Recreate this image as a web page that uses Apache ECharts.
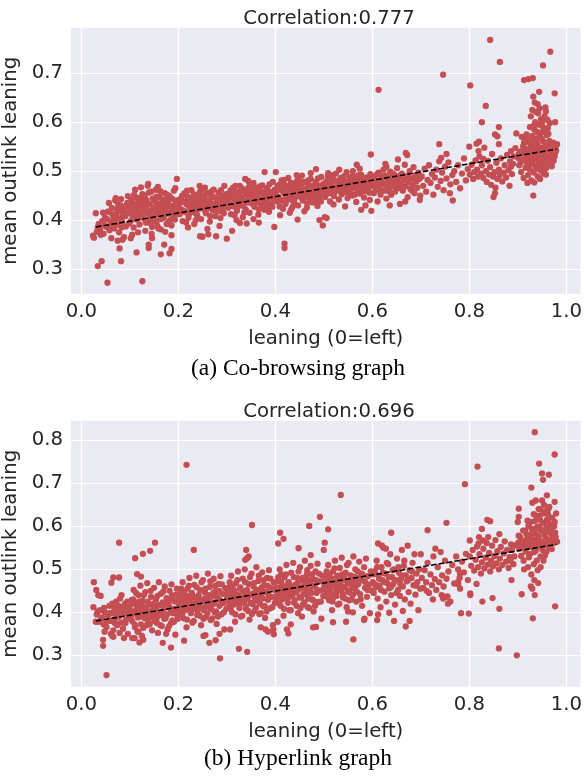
<!DOCTYPE html>
<html><head><meta charset="utf-8">
<script src="https://cdn.jsdelivr.net/npm/echarts@6/dist/echarts.min.js"></script>
<style>html,body{margin:0;padding:0;background:#fff}#c{width:584px;height:777px}</style>
</head><body><div id="c"></div>
<script>
// ---- Data ----
const xTicks = [0, 0.2, 0.4, 0.6, 0.8, 1.0];
const yTicksA = [0.3, 0.4, 0.5, 0.6, 0.7];
const yTicksB = [0.3, 0.4, 0.5, 0.6, 0.7, 0.8];
const titleA = 'Correlation:0.777';
const titleB = 'Correlation:0.696';
const captionA = '(a) Co-browsing graph';
const captionB = '(b) Hyperlink graph';
const xName = 'leaning (0=left)';
const yName = 'mean outlink leaning';
const fitA = [[0.03, 0.386], [0.98, 0.545]];
const fitB = [[0.03, 0.380], [0.98, 0.558]];

const coBrowsing = [
[0.843,0.768],[0.967,0.744],[0.863,0.723],[0.952,0.716],[0.746,0.697],[0.613,0.666],[0.802,0.675],[0.913,0.686],[0.922,0.688],[0.931,0.690],[0.976,0.659],[0.944,0.662],[0.834,0.633],[0.826,0.600],[0.977,0.600],[0.861,0.590],[0.853,0.575],[0.858,0.571],[0.918,0.575],[0.915,0.569],[0.930,0.572],[0.738,0.555],[0.815,0.556],[0.82,0.560],[0.861,0.555],[0.981,0.555],[0.753,0.535],[0.597,0.534],[0.669,0.537],[0.672,0.533],[0.568,0.513],[0.627,0.515],[0.629,0.509],[0.653,0.524],[0.932,0.450],[0.850,0.447],[0.853,0.455],[0.766,0.440],[0.698,0.441],[0.502,0.406],[0.577,0.421],[0.598,0.419],
[0.054,0.272],[0.126,0.275],[0.034,0.306],[0.042,0.316],[0.082,0.316],[0.079,0.342],[0.114,0.334],[0.139,0.350],[0.139,0.343],[0.164,0.330],[0.171,0.350],[0.182,0.332],[0.186,0.341],[0.419,0.352],[0.419,0.343],[0.030,0.414],[0.024,0.368],[0.026,0.364],[0.040,0.370],[0.197,0.484],[0.378,0.498],[0.401,0.498],[0.473,0.496],[0.484,0.504],[0.509,0.496],[0.138,0.474],[0.338,0.484],
[0.245,0.367],[0.25,0.366],[0.262,0.371],[0.278,0.367],[0.300,0.362],[0.311,0.378],[0.186,0.369],[0.146,0.363],[0.102,0.363],[0.498,0.389],[0.506,0.404],[0.446,0.401],[0.491,0.400],[0.398,0.386],[0.327,0.394],[0.341,0.393],[0.366,0.395],
[0.932,0.652],[0.935,0.640],[0.941,0.637],[0.945,0.628],[0.93,0.625],[0.938,0.621],[0.942,0.618],[0.957,0.630],[0.958,0.622],[0.955,0.612],[0.961,0.605],[0.948,0.606],[0.927,0.612],[0.936,0.600],[0.944,0.595],[0.952,0.590],[0.96,0.584],[0.934,0.585],[0.925,0.590],[0.948,0.578],
[0.901,0.527],[0.903,0.512],[0.905,0.540],[0.907,0.498],[0.909,0.522],[0.911,0.551],[0.912,0.486],[0.914,0.532],[0.916,0.507],[0.918,0.545],[0.919,0.518],[0.921,0.492],[0.922,0.561],[0.924,0.528],[0.925,0.503],[0.926,0.538],[0.928,0.481],[0.929,0.552],[0.931,0.515],[0.932,0.530],[0.933,0.497],[0.935,0.566],[0.936,0.544],[0.937,0.509],[0.939,0.525],[0.94,0.556],[0.941,0.489],[0.943,0.537],[0.944,0.518],[0.945,0.571],[0.947,0.502],[0.948,0.548],[0.949,0.528],[0.951,0.512],[0.952,0.561],[0.953,0.495],[0.955,0.539],[0.956,0.521],[0.957,0.553],[0.959,0.507],[0.96,0.574],[0.961,0.531],[0.963,0.546],[0.964,0.516],[0.965,0.562],[0.967,0.527],[0.968,0.541],[0.970,0.510],[0.971,0.555],[0.972,0.535],[0.974,0.521],[0.975,0.546],[0.977,0.538],[0.979,0.542],[0.92,0.476],[0.934,0.477],[0.946,0.484],[0.958,0.493],[0.962,0.588],[0.966,0.598],[0.95,0.600],[0.94,0.58],[0.928,0.568],[0.913,0.558],[0.908,0.570],[0.897,0.577],[0.895,0.547],[0.892,0.530],[0.89,0.515],[0.888,0.494],[0.886,0.541],[0.884,0.520],
[0.801,0.493],[0.805,0.513],[0.808,0.484],[0.81,0.498],[0.813,0.522],[0.816,0.503],[0.818,0.489],[0.821,0.530],[0.824,0.495],[0.826,0.512],[0.829,0.486],[0.831,0.548],[0.834,0.500],[0.836,0.478],[0.838,0.521],[0.841,0.493],[0.843,0.508],[0.845,0.472],[0.847,0.535],[0.849,0.489],[0.852,0.498],[0.854,0.466],[0.856,0.517],[0.858,0.484],[0.861,0.503],[0.863,0.492],[0.865,0.526],[0.868,0.479],[0.871,0.497],[0.873,0.512],[0.876,0.487],[0.878,0.533],[0.881,0.502],[0.883,0.470],[0.886,0.509],[0.819,0.541],[0.8,0.55],[0.829,0.525],
[0.702,0.489],[0.705,0.470],[0.708,0.505],[0.711,0.458],[0.714,0.482],[0.717,0.512],[0.72,0.476],[0.723,0.494],[0.726,0.452],[0.729,0.487],[0.732,0.503],[0.735,0.468],[0.738,0.520],[0.741,0.480],[0.744,0.497],[0.747,0.461],[0.75,0.509],[0.753,0.485],[0.757,0.518],[0.761,0.473],[0.765,0.492],[0.769,0.500],[0.773,0.478],[0.777,0.512],[0.781,0.465],[0.785,0.495],[0.789,0.526],[0.793,0.481],[0.797,0.504],[0.742,0.527],[0.76,0.455],
[0.601,0.472],[0.603,0.455],[0.605,0.489],[0.607,0.463],[0.609,0.480],[0.611,0.438],[0.613,0.497],[0.615,0.468],[0.617,0.452],[0.619,0.485],[0.621,0.476],[0.623,0.503],[0.625,0.460],[0.627,0.491],[0.629,0.444],[0.631,0.474],[0.633,0.487],[0.635,0.466],[0.637,0.499],[0.639,0.452],[0.641,0.481],[0.643,0.470],[0.645,0.493],[0.647,0.458],[0.649,0.477],[0.651,0.506],[0.653,0.465],[0.655,0.488],[0.657,0.433],[0.659,0.474],[0.661,0.495],[0.663,0.460],[0.665,0.482],[0.667,0.513],[0.669,0.469],[0.671,0.490],[0.673,0.447],[0.675,0.478],[0.677,0.500],[0.679,0.463],[0.681,0.485],[0.683,0.472],[0.685,0.508],[0.687,0.455],[0.689,0.492],[0.691,0.479],[0.693,0.466],[0.695,0.497],[0.697,0.484],[0.699,0.450],[0.636,0.430],[0.668,0.438],
[0.501,0.462],[0.503,0.447],[0.505,0.478],[0.507,0.455],[0.509,0.490],[0.511,0.468],[0.513,0.438],[0.515,0.472],[0.517,0.458],[0.519,0.484],[0.521,0.449],[0.523,0.466],[0.525,0.495],[0.527,0.460],[0.529,0.477],[0.531,0.442],[0.533,0.470],[0.535,0.486],[0.537,0.453],[0.539,0.465],[0.541,0.480],[0.543,0.457],[0.545,0.473],[0.547,0.498],[0.549,0.445],[0.551,0.468],[0.553,0.482],[0.555,0.459],[0.557,0.475],[0.559,0.450],[0.561,0.489],[0.563,0.466],[0.565,0.478],[0.567,0.437],[0.569,0.462],[0.571,0.485],[0.573,0.471],[0.575,0.454],[0.577,0.493],[0.579,0.467],[0.581,0.480],[0.583,0.446],[0.585,0.472],[0.587,0.459],[0.589,0.487],[0.591,0.464],[0.593,0.476],[0.595,0.441],[0.597,0.469],[0.599,0.483],[0.52,0.432],[0.544,0.428],[0.586,0.430],[0.56,0.500],[0.532,0.503],[0.574,0.505],
[0.401,0.455],[0.403,0.438],[0.405,0.470],[0.407,0.447],[0.409,0.428],[0.411,0.462],[0.413,0.481],[0.415,0.441],[0.417,0.457],[0.419,0.472],[0.421,0.433],[0.423,0.450],[0.425,0.466],[0.427,0.486],[0.429,0.444],[0.431,0.459],[0.433,0.422],[0.435,0.475],[0.437,0.452],[0.439,0.438],[0.441,0.468],[0.443,0.455],[0.445,0.480],[0.447,0.430],[0.449,0.461],[0.451,0.448],[0.453,0.473],[0.455,0.491],[0.457,0.440],[0.459,0.464],[0.461,0.452],[0.463,0.477],[0.465,0.425],[0.467,0.458],[0.469,0.469],[0.471,0.443],[0.473,0.484],[0.475,0.455],[0.477,0.436],[0.479,0.466],[0.481,0.449],[0.483,0.478],[0.485,0.460],[0.487,0.429],[0.489,0.471],[0.491,0.446],[0.493,0.463],[0.495,0.488],[0.497,0.452],[0.499,0.474],[0.43,0.415],[0.46,0.418],[0.41,0.41],
[0.301,0.440],[0.303,0.425],[0.305,0.455],[0.307,0.433],[0.309,0.412],[0.311,0.447],[0.313,0.466],[0.315,0.428],[0.317,0.441],[0.319,0.458],[0.321,0.419],[0.323,0.436],[0.325,0.451],[0.327,0.470],[0.329,0.430],[0.331,0.445],[0.333,0.406],[0.335,0.461],[0.337,0.438],[0.339,0.422],[0.341,0.453],[0.343,0.441],[0.345,0.467],[0.347,0.415],[0.349,0.448],[0.351,0.434],[0.353,0.459],[0.355,0.476],[0.357,0.427],[0.359,0.450],[0.361,0.439],[0.363,0.463],[0.365,0.411],[0.367,0.444],[0.369,0.456],[0.371,0.430],[0.373,0.471],[0.375,0.442],[0.377,0.421],[0.379,0.452],[0.381,0.436],[0.383,0.465],[0.385,0.447],[0.387,0.417],[0.389,0.458],[0.391,0.432],[0.393,0.449],[0.395,0.478],[0.397,0.440],[0.399,0.462],[0.32,0.40],[0.355,0.402],
[0.201,0.430],[0.203,0.412],[0.205,0.444],[0.207,0.421],[0.209,0.398],[0.211,0.437],[0.213,0.455],[0.215,0.416],[0.217,0.432],[0.219,0.448],[0.221,0.405],[0.223,0.426],[0.225,0.441],[0.227,0.461],[0.229,0.419],[0.231,0.435],[0.233,0.392],[0.235,0.452],[0.237,0.428],[0.239,0.410],[0.241,0.444],[0.243,0.431],[0.245,0.458],[0.247,0.402],[0.249,0.439],[0.251,0.424],[0.253,0.449],[0.255,0.466],[0.257,0.414],[0.259,0.440],[0.261,0.428],[0.263,0.454],[0.265,0.397],[0.267,0.435],[0.269,0.447],[0.271,0.420],[0.273,0.462],[0.275,0.433],[0.277,0.408],[0.279,0.443],[0.281,0.426],[0.283,0.456],[0.285,0.437],[0.287,0.404],[0.289,0.450],[0.291,0.422],[0.293,0.440],[0.295,0.470],[0.297,0.430],[0.299,0.453],[0.22,0.385],[0.26,0.382],[0.285,0.388],
[0.100,0.415],[0.102,0.398],[0.104,0.432],[0.106,0.407],[0.108,0.385],[0.110,0.424],[0.112,0.446],[0.114,0.401],[0.116,0.418],[0.118,0.437],[0.120,0.391],[0.122,0.412],[0.124,0.428],[0.126,0.453],[0.128,0.404],[0.130,0.421],[0.132,0.378],[0.134,0.441],[0.136,0.414],[0.138,0.395],[0.140,0.433],[0.142,0.419],[0.144,0.458],[0.146,0.386],[0.148,0.426],[0.150,0.409],[0.152,0.438],[0.154,0.462],[0.156,0.399],[0.158,0.429],[0.160,0.416],[0.162,0.447],[0.164,0.381],[0.166,0.423],[0.168,0.436],[0.170,0.405],[0.172,0.455],[0.174,0.420],[0.176,0.392],[0.178,0.432],[0.180,0.413],[0.182,0.449],[0.184,0.427],[0.186,0.389],[0.188,0.443],[0.190,0.408],[0.192,0.430],[0.194,0.465],[0.196,0.418],[0.198,0.440],[0.111,0.462],[0.123,0.467],[0.137,0.470],[0.158,0.468],[0.117,0.375],[0.145,0.372],[0.173,0.376],[0.105,0.370],[0.129,0.440],[0.151,0.425],[0.167,0.411],[0.183,0.400],[0.141,0.403],[0.189,0.421],
[0.032,0.376],[0.036,0.392],[0.039,0.380],[0.043,0.398],[0.046,0.372],[0.049,0.405],[0.052,0.386],[0.055,0.417],[0.058,0.379],[0.061,0.394],[0.063,0.425],[0.066,0.402],[0.068,0.383],[0.070,0.440],[0.072,0.410],[0.074,0.391],[0.076,0.432],[0.078,0.375],[0.080,0.418],[0.082,0.443],[0.084,0.397],[0.086,0.408],[0.088,0.365],[0.090,0.428],[0.092,0.387],[0.094,0.414],[0.096,0.449],[0.098,0.393],[0.062,0.363],[0.075,0.358],[0.085,0.360],[0.045,0.415],[0.057,0.435],[0.071,0.445]
];

const coBrowsingMore = [
[0.101,0.428],[0.103,0.441],[0.107,0.419],[0.109,0.452],[0.113,0.433],[0.115,0.410],[0.119,0.445],[0.121,0.425],[0.125,0.406],[0.127,0.437],[0.131,0.450],[0.133,0.417],[0.135,0.430],[0.139,0.456],[0.143,0.411],[0.147,0.444],[0.149,0.397],[0.153,0.420],[0.155,0.448],[0.157,0.412],[0.159,0.383],[0.161,0.434],[0.163,0.459],[0.165,0.402],[0.169,0.426],[0.171,0.441],[0.175,0.414],[0.177,0.452],[0.179,0.395],[0.181,0.430],[0.185,0.445],[0.187,0.417],[0.191,0.460],[0.193,0.401],[0.195,0.436],[0.197,0.425],[0.199,0.412],[0.133,0.395],[0.157,0.388],[0.179,0.44],
[0.202,0.441],[0.204,0.423],[0.208,0.450],[0.212,0.418],[0.214,0.438],[0.218,0.460],[0.222,0.412],[0.226,0.445],[0.228,0.430],[0.232,0.452],[0.234,0.415],[0.238,0.441],[0.242,0.422],[0.246,0.448],[0.248,0.463],[0.252,0.434],[0.256,0.418],[0.258,0.455],[0.262,0.440],[0.264,0.425],[0.268,0.458],[0.272,0.432],[0.274,0.447],[0.278,0.419],[0.282,0.444],[0.284,0.430],[0.288,0.461],[0.292,0.436],[0.294,0.414],[0.298,0.448],[0.216,0.395],[0.236,0.400],[0.266,0.408],[0.286,0.418],[0.244,0.47],
[0.302,0.452],[0.304,0.437],[0.308,0.461],[0.312,0.429],[0.314,0.450],[0.318,0.470],[0.322,0.426],[0.326,0.458],[0.328,0.442],[0.332,0.464],[0.334,0.430],[0.338,0.454],[0.342,0.436],[0.346,0.459],[0.348,0.472],[0.352,0.446],[0.356,0.432],[0.358,0.466],[0.362,0.451],[0.364,0.437],[0.368,0.469],[0.372,0.444],[0.374,0.458],[0.378,0.432],[0.382,0.455],[0.384,0.441],[0.388,0.473],[0.392,0.447],[0.394,0.427],[0.398,0.458],[0.316,0.410],[0.336,0.415],[0.366,0.422],[0.386,0.426],[0.344,0.480],
[0.402,0.463],[0.404,0.448],[0.408,0.472],[0.412,0.440],[0.414,0.461],[0.418,0.482],[0.422,0.438],[0.426,0.469],[0.428,0.454],[0.432,0.476],[0.434,0.441],[0.438,0.465],[0.442,0.447],[0.446,0.471],[0.448,0.484],[0.452,0.457],[0.456,0.443],[0.458,0.478],[0.462,0.462],[0.464,0.448],[0.468,0.481],[0.472,0.455],[0.474,0.470],[0.478,0.444],[0.482,0.467],[0.484,0.452],[0.488,0.485],[0.492,0.459],[0.494,0.438],[0.498,0.470],[0.416,0.423],[0.436,0.428],[0.466,0.434],[0.486,0.437],[0.444,0.492],
[0.502,0.474],[0.506,0.462],[0.508,0.482],[0.512,0.455],[0.516,0.476],[0.518,0.492],[0.522,0.458],[0.526,0.480],[0.528,0.467],[0.534,0.459],[0.536,0.479],[0.538,0.472],[0.542,0.490],[0.546,0.463],[0.548,0.476],[0.552,0.455],[0.554,0.488],[0.558,0.466],[0.562,0.480],[0.564,0.452],[0.568,0.475],[0.572,0.492],[0.576,0.463],[0.578,0.478],[0.582,0.459],[0.584,0.486],[0.588,0.470],[0.592,0.482],[0.594,0.456],[0.596,0.494],
[0.602,0.483],[0.606,0.470],[0.61,0.494],[0.614,0.461],[0.618,0.478],[0.622,0.490],[0.626,0.472],[0.63,0.486],[0.634,0.459],[0.638,0.480],[0.642,0.495],[0.646,0.468],[0.65,0.485],[0.654,0.476],[0.658,0.492],[0.662,0.467],[0.666,0.481],[0.674,0.488],[0.682,0.460],[0.69,0.484],
[0.902,0.535],[0.906,0.518],[0.91,0.541],[0.915,0.525],[0.917,0.560],[0.92,0.533],[0.923,0.514],[0.927,0.547],[0.93,0.522],[0.934,0.556],[0.938,0.534],[0.942,0.546],[0.946,0.527],[0.95,0.566],[0.954,0.530],[0.958,0.548],[0.962,0.520],[0.966,0.552],[0.969,0.532],[0.973,0.558],[0.976,0.530],[0.978,0.550],[0.939,0.505],[0.947,0.513],[0.956,0.504],[0.963,0.576],[0.953,0.582],[0.943,0.568],[0.933,0.593],[0.926,0.556],
[0.034,0.385],[0.041,0.372],[0.047,0.390],[0.053,0.402],[0.059,0.388],[0.064,0.412],[0.069,0.396],[0.073,0.422],[0.077,0.404],[0.081,0.430],[0.087,0.421],[0.091,0.408],[0.095,0.435],[0.099,0.426],[0.083,0.385]
];

const hyperlink = [
[0.217,0.743],[0.352,0.603],[0.470,0.601],[0.492,0.622],[0.410,0.585],[0.417,0.571],[0.406,0.560],[0.078,0.562],[0.152,0.562],[0.142,0.543],[0.127,0.536],[0.111,0.526],[0.232,0.545],[0.340,0.545],[0.345,0.530],[0.338,0.522],[0.342,0.526],[0.448,0.549],[0.473,0.533],[0.502,0.562],[0.509,0.593],[0.500,0.545],[0.115,0.489],[0.123,0.483],[0.066,0.481],[0.078,0.481],[0.062,0.469],[0.026,0.470],[0.031,0.452],[0.035,0.440],[0.040,0.438],[0.025,0.412],[0.052,0.254],[0.045,0.322],[0.045,0.336],[0.066,0.343],[0.061,0.350],[0.286,0.293],[0.325,0.315],[0.342,0.308],[0.185,0.318],[0.168,0.329],[0.212,0.334],[0.120,0.330],[0.128,0.336],[0.105,0.340],[0.110,0.340],[0.264,0.329],[0.277,0.335],[0.252,0.345],[0.256,0.347],[0.285,0.350],[0.307,0.360],[0.397,0.349],[0.427,0.351],[0.424,0.360],[0.396,0.360],
[0.935,0.819],[0.976,0.767],[0.817,0.739],[0.944,0.746],[0.950,0.723],[0.964,0.720],[0.952,0.708],[0.791,0.698],[0.928,0.690],[0.535,0.673],[0.960,0.672],[0.976,0.657],[0.930,0.655],[0.937,0.660],[0.902,0.641],[0.902,0.622],[0.837,0.615],[0.843,0.612],[0.900,0.610],[0.920,0.613],[0.753,0.608],[0.714,0.591],[0.826,0.594],[0.639,0.585],[0.801,0.567],[0.820,0.575],[0.819,0.560],[0.981,0.564],[0.977,0.414],[0.931,0.386],[0.861,0.316],[0.898,0.300],[0.561,0.337],[0.669,0.367],[0.677,0.380],[0.783,0.398],[0.799,0.397],[0.827,0.425],[0.862,0.408],[0.848,0.433],[0.908,0.442],[0.887,0.475],[0.935,0.440],[0.930,0.455],[0.802,0.444],[0.802,0.440],[0.815,0.466],[0.777,0.470],[0.777,0.465],[0.780,0.480],[0.781,0.490],[0.743,0.440],[0.746,0.432],[0.752,0.436],[0.755,0.437],[0.725,0.430],[0.712,0.450],[0.663,0.403],[0.635,0.399],[0.610,0.382],[0.583,0.382],[0.584,0.385],[0.546,0.378],[0.519,0.377],[0.560,0.400],[0.550,0.402],
[0.901,0.562],[0.903,0.548],[0.905,0.575],[0.907,0.531],[0.909,0.557],[0.911,0.590],[0.912,0.520],[0.914,0.566],[0.916,0.541],[0.918,0.582],[0.919,0.553],[0.921,0.505],[0.922,0.601],[0.924,0.563],[0.925,0.535],[0.926,0.575],[0.928,0.488],[0.929,0.594],[0.931,0.550],[0.932,0.569],[0.933,0.512],[0.935,0.612],[0.936,0.583],[0.937,0.543],[0.939,0.560],[0.940,0.598],[0.941,0.498],[0.943,0.577],[0.944,0.553],[0.945,0.625],[0.947,0.530],[0.948,0.590],[0.949,0.565],[0.951,0.545],[0.952,0.608],[0.953,0.520],[0.955,0.580],[0.956,0.558],[0.957,0.635],[0.959,0.540],[0.960,0.615],[0.961,0.570],[0.963,0.592],[0.964,0.552],[0.965,0.645],[0.967,0.566],[0.968,0.603],[0.970,0.547],[0.971,0.620],[0.972,0.578],[0.974,0.561],[0.975,0.600],[0.977,0.585],[0.979,0.630],[0.934,0.475],[0.942,0.468],[0.927,0.460],[0.946,0.640],[0.954,0.650],[0.962,0.628],[0.938,0.625],[0.950,0.660],[0.958,0.605],[0.944,0.600],[0.966,0.585],[0.923,0.528],[0.913,0.500],[0.896,0.556],[0.893,0.530],[0.891,0.512],[0.888,0.545],[0.885,0.520],
[0.801,0.530],[0.804,0.508],[0.807,0.545],[0.810,0.497],[0.813,0.522],[0.816,0.553],[0.818,0.505],[0.821,0.535],[0.824,0.490],[0.826,0.516],[0.829,0.548],[0.831,0.502],[0.834,0.527],[0.836,0.561],[0.838,0.511],[0.841,0.538],[0.843,0.495],[0.845,0.520],[0.847,0.555],[0.849,0.507],[0.852,0.531],[0.854,0.568],[0.856,0.514],[0.858,0.542],[0.861,0.500],[0.863,0.525],[0.865,0.552],[0.868,0.510],[0.871,0.537],[0.873,0.565],[0.876,0.518],[0.878,0.545],[0.881,0.503],[0.883,0.528],[0.886,0.558],[0.839,0.575],[0.862,0.582],[0.828,0.567],
[0.702,0.480],[0.705,0.457],[0.708,0.498],[0.711,0.470],[0.714,0.515],[0.717,0.445],[0.720,0.488],[0.723,0.463],[0.726,0.530],[0.729,0.477],[0.732,0.452],[0.735,0.505],[0.738,0.470],[0.741,0.540],[0.744,0.486],[0.747,0.460],[0.750,0.520],[0.753,0.478],[0.757,0.495],[0.761,0.425],[0.765,0.510],[0.769,0.467],[0.773,0.530],[0.777,0.500],[0.781,0.455],[0.785,0.518],[0.789,0.493],[0.793,0.536],[0.797,0.475],[0.756,0.420],[0.70,0.535],[0.73,0.548],
[0.601,0.470],[0.603,0.445],[0.605,0.495],[0.607,0.458],[0.609,0.520],[0.611,0.432],[0.613,0.485],[0.615,0.462],[0.617,0.412],[0.619,0.505],[0.621,0.475],[0.623,0.550],[0.625,0.448],[0.627,0.490],[0.629,0.425],[0.631,0.468],[0.633,0.512],[0.635,0.456],[0.637,0.535],[0.639,0.440],[0.641,0.482],[0.643,0.465],[0.645,0.500],[0.647,0.418],[0.649,0.474],[0.651,0.525],[0.653,0.452],[0.655,0.492],[0.657,0.438],[0.659,0.478],[0.661,0.545],[0.663,0.460],[0.665,0.508],[0.667,0.430],[0.669,0.486],[0.671,0.472],[0.673,0.555],[0.675,0.447],[0.677,0.498],[0.679,0.420],[0.681,0.480],[0.683,0.515],[0.685,0.463],[0.687,0.535],[0.689,0.441],[0.691,0.490],[0.693,0.470],[0.695,0.405],[0.697,0.500],[0.699,0.455],[0.620,0.555],[0.612,0.560],[0.628,0.548],[0.645,0.380],[0.612,0.395],
[0.501,0.462],[0.503,0.440],[0.505,0.485],[0.507,0.452],[0.509,0.510],[0.511,0.428],[0.513,0.475],[0.515,0.458],[0.517,0.405],[0.519,0.495],[0.521,0.468],[0.523,0.520],[0.525,0.445],[0.527,0.482],[0.529,0.418],[0.531,0.460],[0.533,0.503],[0.535,0.450],[0.537,0.527],[0.539,0.435],[0.541,0.476],[0.543,0.458],[0.545,0.492],[0.547,0.412],[0.549,0.467],[0.551,0.515],[0.553,0.446],[0.555,0.486],[0.557,0.430],[0.559,0.472],[0.561,0.530],[0.563,0.455],[0.565,0.500],[0.567,0.425],[0.569,0.480],[0.571,0.465],[0.573,0.518],[0.575,0.442],[0.577,0.490],[0.579,0.415],[0.581,0.474],[0.583,0.505],[0.585,0.457],[0.587,0.525],[0.589,0.436],[0.591,0.484],[0.593,0.463],[0.595,0.398],[0.597,0.495],[0.599,0.450],[0.52,0.435],[0.556,0.470],[0.574,0.478],[0.538,0.488],[0.566,0.462],
[0.401,0.450],[0.403,0.428],[0.405,0.472],[0.407,0.440],[0.409,0.500],[0.411,0.415],[0.413,0.462],[0.415,0.445],[0.417,0.392],[0.419,0.482],[0.421,0.455],[0.423,0.510],[0.425,0.432],[0.427,0.470],[0.429,0.405],[0.431,0.448],[0.433,0.492],[0.435,0.438],[0.437,0.515],[0.439,0.422],[0.441,0.463],[0.443,0.446],[0.445,0.480],[0.447,0.398],[0.449,0.455],[0.451,0.505],[0.453,0.434],[0.455,0.474],[0.457,0.418],[0.459,0.460],[0.461,0.520],[0.463,0.442],[0.465,0.488],[0.467,0.412],[0.469,0.468],[0.471,0.453],[0.473,0.508],[0.475,0.430],[0.477,0.478],[0.479,0.402],[0.481,0.462],[0.483,0.495],[0.485,0.445],[0.487,0.513],[0.489,0.424],[0.491,0.472],[0.493,0.451],[0.495,0.385],[0.497,0.485],[0.499,0.438],[0.405,0.378],[0.432,0.372],[0.478,0.365],[0.484,0.366],[0.455,0.39],[0.412,0.488],[0.446,0.466],[0.466,0.476],[0.425,0.458],
[0.301,0.435],[0.303,0.412],[0.305,0.458],[0.307,0.425],[0.309,0.485],[0.311,0.400],[0.313,0.448],[0.315,0.430],[0.317,0.378],[0.319,0.468],[0.321,0.440],[0.323,0.495],[0.325,0.418],[0.327,0.455],[0.329,0.390],[0.331,0.433],[0.333,0.478],[0.335,0.422],[0.337,0.500],[0.339,0.408],[0.341,0.448],[0.343,0.431],[0.345,0.466],[0.347,0.383],[0.349,0.440],[0.351,0.490],[0.353,0.419],[0.355,0.460],[0.357,0.403],[0.359,0.445],[0.361,0.505],[0.363,0.427],[0.365,0.473],[0.367,0.396],[0.369,0.452],[0.371,0.437],[0.373,0.493],[0.375,0.414],[0.377,0.463],[0.379,0.387],[0.381,0.447],[0.383,0.480],[0.385,0.429],[0.387,0.498],[0.389,0.409],[0.391,0.457],[0.393,0.436],[0.395,0.370],[0.397,0.470],[0.399,0.422],[0.38,0.36],[0.37,0.365],[0.385,0.355],
[0.201,0.420],[0.203,0.398],[0.205,0.445],[0.207,0.410],[0.209,0.470],[0.211,0.386],[0.213,0.435],[0.215,0.417],[0.217,0.365],[0.219,0.455],[0.221,0.427],[0.223,0.480],[0.225,0.404],[0.227,0.442],[0.229,0.376],[0.231,0.419],[0.233,0.464],[0.235,0.408],[0.237,0.485],[0.239,0.394],[0.241,0.434],[0.243,0.417],[0.245,0.452],[0.247,0.370],[0.249,0.426],[0.251,0.475],[0.253,0.405],[0.255,0.446],[0.257,0.389],[0.259,0.431],[0.261,0.490],[0.263,0.413],[0.265,0.459],[0.267,0.382],[0.269,0.438],[0.271,0.423],[0.273,0.478],[0.275,0.400],[0.277,0.449],[0.279,0.373],[0.281,0.433],[0.283,0.466],[0.285,0.415],[0.287,0.484],[0.289,0.395],[0.291,0.443],[0.293,0.422],[0.295,0.360],[0.297,0.456],[0.299,0.408],
[0.100,0.405],[0.102,0.385],[0.104,0.428],[0.106,0.396],[0.108,0.452],[0.110,0.372],[0.112,0.420],[0.114,0.402],[0.116,0.355],[0.118,0.440],[0.120,0.412],[0.122,0.462],[0.124,0.390],[0.126,0.427],[0.128,0.364],[0.130,0.405],[0.132,0.447],[0.134,0.393],[0.136,0.468],[0.138,0.380],[0.140,0.418],[0.142,0.402],[0.144,0.436],[0.146,0.358],[0.148,0.411],[0.150,0.457],[0.152,0.390],[0.154,0.430],[0.156,0.375],[0.158,0.415],[0.160,0.470],[0.162,0.398],[0.164,0.443],[0.166,0.368],[0.168,0.423],[0.170,0.408],[0.172,0.460],[0.174,0.386],[0.176,0.433],[0.178,0.360],[0.180,0.418],[0.182,0.450],[0.184,0.400],[0.186,0.465],[0.188,0.381],[0.190,0.428],[0.192,0.408],[0.194,0.348],[0.196,0.441],[0.198,0.394],[0.135,0.37],[0.155,0.385],[0.125,0.345],[0.175,0.35],[0.145,0.39],[0.165,0.395],[0.185,0.375],
[0.032,0.395],[0.036,0.378],[0.039,0.405],[0.043,0.388],[0.046,0.372],[0.049,0.400],[0.052,0.365],[0.055,0.392],[0.058,0.415],[0.061,0.380],[0.063,0.398],[0.066,0.358],[0.068,0.410],[0.070,0.385],[0.072,0.425],[0.074,0.370],[0.076,0.403],[0.078,0.390],[0.080,0.432],[0.082,0.376],[0.084,0.412],[0.086,0.362],[0.088,0.398],[0.090,0.420],[0.092,0.383],[0.094,0.407],[0.096,0.350],[0.098,0.394],[0.030,0.378],[0.048,0.355],[0.064,0.345],[0.079,0.352],[0.088,0.340]
];

const hyperlinkMore = [
[0.101,0.395],[0.103,0.418],[0.105,0.380],[0.107,0.430],[0.109,0.402],[0.111,0.365],[0.113,0.445],[0.115,0.410],[0.117,0.388],[0.119,0.425],[0.121,0.398],[0.123,0.372],[0.127,0.415],[0.129,0.440],[0.131,0.386],[0.133,0.408],[0.137,0.425],[0.139,0.395],[0.141,0.372],[0.143,0.450],[0.147,0.398],[0.149,0.420],[0.151,0.380],[0.153,0.405],[0.157,0.438],[0.159,0.392],[0.161,0.417],[0.163,0.370],[0.167,0.402],[0.169,0.448],[0.171,0.385],[0.173,0.420],[0.177,0.395],[0.179,0.430],[0.181,0.368],[0.183,0.410],[0.187,0.440],[0.189,0.398],[0.191,0.378],[0.193,0.425],[0.195,0.405],[0.197,0.455],[0.199,0.385],[0.158,0.352],[0.118,0.355],
[0.202,0.432],[0.204,0.410],[0.206,0.455],[0.208,0.395],[0.210,0.425],[0.212,0.448],[0.214,0.405],[0.216,0.438],[0.218,0.383],[0.220,0.415],[0.222,0.462],[0.224,0.428],[0.226,0.398],[0.228,0.445],[0.230,0.412],[0.232,0.380],[0.234,0.435],[0.236,0.422],[0.238,0.458],[0.240,0.403],[0.242,0.440],[0.244,0.392],[0.246,0.428],[0.248,0.470],[0.250,0.410],[0.252,0.385],[0.254,0.432],[0.256,0.455],[0.258,0.418],[0.260,0.398],[0.262,0.440],[0.264,0.425],[0.266,0.472],[0.268,0.408],[0.270,0.386],[0.272,0.445],[0.274,0.420],[0.276,0.462],[0.278,0.402],[0.280,0.436],[0.282,0.390],[0.284,0.450],[0.286,0.428],[0.290,0.465],[0.294,0.400],
[0.302,0.445],[0.304,0.425],[0.306,0.470],[0.308,0.408],[0.310,0.438],[0.312,0.460],[0.314,0.418],[0.316,0.450],[0.318,0.395],[0.320,0.428],[0.322,0.475],[0.324,0.440],[0.326,0.410],[0.328,0.458],[0.330,0.425],[0.332,0.392],[0.334,0.448],[0.336,0.435],[0.338,0.470],[0.340,0.415],[0.342,0.452],[0.344,0.403],[0.346,0.440],[0.348,0.482],[0.350,0.422],[0.352,0.396],[0.354,0.444],[0.356,0.468],[0.358,0.430],[0.360,0.410],[0.362,0.452],[0.364,0.438],[0.366,0.485],[0.368,0.420],[0.370,0.398],[0.372,0.458],[0.374,0.432],[0.376,0.475],[0.378,0.415],[0.380,0.448],[0.382,0.402],[0.384,0.462],[0.386,0.440],[0.390,0.478],[0.394,0.412],
[0.402,0.458],[0.404,0.438],[0.406,0.482],[0.408,0.420],[0.410,0.450],[0.412,0.472],[0.414,0.430],[0.416,0.462],[0.418,0.408],[0.420,0.440],[0.422,0.488],[0.424,0.452],[0.426,0.422],[0.428,0.470],[0.430,0.437],[0.432,0.405],[0.434,0.460],[0.436,0.447],[0.438,0.482],[0.440,0.428],[0.442,0.465],[0.444,0.415],[0.446,0.452],[0.448,0.495],[0.450,0.435],[0.452,0.410],[0.454,0.457],[0.456,0.480],[0.458,0.443],[0.460,0.423],[0.462,0.465],[0.464,0.450],[0.466,0.498],[0.468,0.432],[0.470,0.410],[0.472,0.470],[0.474,0.445],[0.476,0.488],[0.478,0.428],[0.480,0.460],[0.482,0.415],[0.484,0.475],[0.486,0.452],[0.490,0.490],[0.494,0.425],
[0.502,0.472],[0.504,0.452],[0.506,0.495],[0.508,0.435],[0.510,0.465],[0.512,0.488],[0.514,0.445],[0.516,0.478],[0.518,0.425],[0.520,0.458],[0.522,0.502],[0.524,0.468],[0.526,0.438],[0.528,0.485],[0.530,0.452],[0.532,0.420],[0.534,0.475],[0.536,0.462],[0.540,0.442],[0.542,0.480],[0.544,0.432],[0.548,0.510],[0.550,0.450],[0.552,0.428],[0.554,0.472],[0.558,0.458],[0.560,0.440],[0.562,0.483],[0.564,0.468],[0.568,0.448],[0.570,0.495],[0.576,0.430],[0.580,0.488],[0.586,0.470],[0.590,0.452],
[0.602,0.488],[0.606,0.465],[0.61,0.505],[0.614,0.478],[0.618,0.452],[0.622,0.492],[0.626,0.470],[0.63,0.515],[0.634,0.482],[0.638,0.458],[0.642,0.498],[0.646,0.475],[0.65,0.445],[0.654,0.505],[0.658,0.465],[0.662,0.485],[0.666,0.520],[0.674,0.475],[0.682,0.495],[0.69,0.462],
[0.902,0.578],[0.906,0.552],[0.91,0.565],[0.915,0.590],[0.917,0.548],[0.92,0.575],[0.923,0.600],[0.927,0.560],[0.93,0.585],[0.934,0.540],[0.938,0.595],[0.942,0.570],[0.946,0.615],[0.95,0.552],[0.954,0.592],[0.958,0.568],[0.962,0.610],[0.966,0.558],[0.969,0.590],[0.973,0.572],[0.976,0.610],[0.978,0.575],[0.939,0.520],[0.947,0.505],[0.956,0.532],[0.963,0.640],[0.953,0.630],[0.943,0.640],[0.933,0.628],[0.926,0.610],
[0.034,0.402],[0.041,0.385],[0.047,0.410],[0.053,0.378],[0.059,0.398],[0.064,0.420],[0.069,0.375],[0.073,0.398],[0.077,0.415],[0.081,0.395],[0.087,0.410],[0.091,0.375],[0.095,0.425],[0.099,0.410],[0.083,0.440]
];

// ---- Chart ----
const FONT = 'DejaVu Sans';
const TXT = '#262626';
const DOT = '#C44E52';
const FS = 19.7;
const chart = echarts.init(document.getElementById('c'), null, {renderer: 'canvas'});

function xAxis(gi) {
  return {
    gridIndex: gi, type: 'value', min: -0.0212, max: 1.0293,
    name: xName, nameLocation: 'middle', nameGap: 35,
    nameTextStyle: {fontFamily: FONT, fontSize: FS, color: TXT},
    axisLine: {show: false},
    axisTick: {show: false, customValues: xTicks},
    axisLabel: {customValues: xTicks, fontFamily: FONT, fontSize: FS, color: TXT, margin: 8,
      formatter: v => v.toFixed(1)},
    splitLine: {show: true, lineStyle: {color: '#ffffff', width: 1.2}}
  };
}
function yAxis(gi, mn, mx, ticks) {
  return {
    gridIndex: gi, type: 'value', min: mn, max: mx,
    name: yName, nameLocation: 'middle', nameGap: 40, nameRotate: 90,
    nameTextStyle: {fontFamily: FONT, fontSize: FS, color: TXT},
    axisLine: {show: false},
    axisTick: {show: false, customValues: ticks},
    axisLabel: {customValues: ticks, fontFamily: FONT, fontSize: FS, color: TXT, margin: 8,
      formatter: v => v.toFixed(1)},
    splitLine: {show: true, lineStyle: {color: '#ffffff', width: 1.2}}
  };
}

const option = {
  backgroundColor: '#ffffff',
  animation: false,
  title: [
    {text: titleA, left: 324, top: 4, textAlign: 'center',
      textStyle: {fontFamily: FONT, fontSize: FS, fontWeight: 'normal', color: TXT}},
    {text: titleB, left: 324, top: 397, textAlign: 'center',
      textStyle: {fontFamily: FONT, fontSize: FS, fontWeight: 'normal', color: TXT}},
    {text: captionA, left: 293, top: 352, textAlign: 'center',
      textStyle: {fontFamily: 'Liberation Serif', fontSize: 23.5, fontWeight: 'normal', color: '#000'}},
    {text: captionB, left: 293, top: 742, textAlign: 'center',
      textStyle: {fontFamily: 'Liberation Serif', fontSize: 23.5, fontWeight: 'normal', color: '#000'}}
  ],
  grid: [
    {left: 71, right: 3.5, top: 27.7, height: 266.3, show: true, backgroundColor: '#EAEAF2', borderWidth: 0,
      containLabel: false, outerBoundsMode: 'none'},
    {left: 71, right: 3.5, top: 420.7, height: 266, show: true, backgroundColor: '#EAEAF2', borderWidth: 0,
      containLabel: false, outerBoundsMode: 'none'}
  ],
  xAxis: [xAxis(0), xAxis(1)],
  yAxis: [yAxis(0, 0.249, 0.793, yTicksA), yAxis(1, 0.227, 0.8456, yTicksB)],
  series: [
    {type: 'scatter', xAxisIndex: 0, yAxisIndex: 0, data: coBrowsing.concat(coBrowsingMore), symbolSize: 6.3,
      itemStyle: {color: DOT, opacity: 1}, z: 2},
    {type: 'line', xAxisIndex: 0, yAxisIndex: 0, data: fitA, symbol: 'none', z: 3,
      lineStyle: {color: '#000', width: 1.5, type: [5.5, 2.4]}},
    {type: 'scatter', xAxisIndex: 1, yAxisIndex: 1, data: hyperlink.concat(hyperlinkMore), symbolSize: 6.3,
      itemStyle: {color: DOT, opacity: 1}, z: 2},
    {type: 'line', xAxisIndex: 1, yAxisIndex: 1, data: fitB, symbol: 'none', z: 3,
      lineStyle: {color: '#000', width: 1.5, type: [5.5, 2.4]}}
  ]
};
chart.setOption(option);
</script></body></html>
